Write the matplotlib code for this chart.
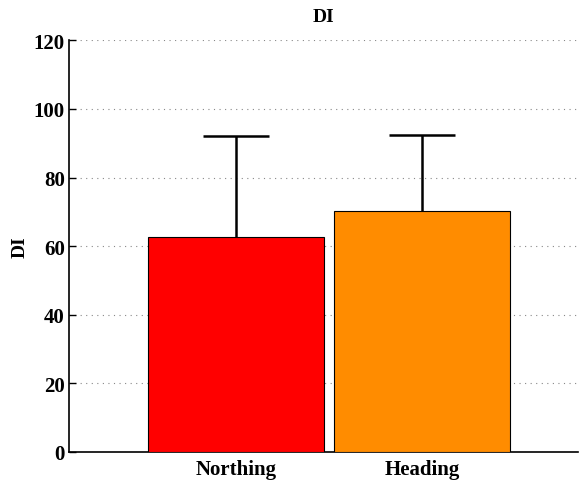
import matplotlib
matplotlib.use("Agg")
import matplotlib.pyplot as plt

categories = ["Northing", "Heading"]
values = [62.75, 70.3]
errors = [29.25, 22.1]
colors = ["#ff0000", "#ff8c00"]
yticks = [0, 20, 40, 60, 80, 100, 120]

plt.rcParams['font.family'] = ['Liberation Serif', 'DejaVu Serif']
plt.rcParams['font.weight'] = 'bold'

fig = plt.figure(figsize=(5.82, 4.81), dpi=100)
ax = fig.add_axes([69/582, 1-453/481, (578-69)/582, (453-41.3)/481])

x = [1, 2]
ax.bar(x, values, width=0.95, color=colors, edgecolor='black', linewidth=0.8, zorder=3)
eb = ax.errorbar(x, values, yerr=[[0, 0], errors], fmt='none', ecolor='black',
                 elinewidth=1.8, capsize=23.5, capthick=1.8, zorder=4)
for cl in eb[1]:
    yd = list(cl.get_ydata())
    if all(abs(a - b) < 1e-9 for a, b in zip(yd, values)):
        cl.set_visible(False)

ax.set_xlim(0.1, 2.84)
ax.set_ylim(0, 120)
ax.set_yticks(yticks)
ax.set_xticks(x)
ax.set_xticklabels(categories, fontsize=15, fontweight='bold')
ax.tick_params(axis='y', labelsize=15, direction='in', length=5, width=1, pad=3)
ax.tick_params(axis='x', direction='in', length=0, pad=5)
for lab in ax.get_yticklabels():
    lab.set_fontweight('bold')
ax.yaxis.grid(True, linestyle=(0, (1, 4)), color='#888888', linewidth=0.8, zorder=0)
ax.spines['top'].set_visible(False)
ax.spines['right'].set_visible(False)
ax.spines['left'].set_linewidth(1.2)
ax.spines['bottom'].set_linewidth(1.2)
ax.set_ylabel("DI", fontsize=14, fontweight='bold', labelpad=4)
ax.set_title("DI", fontsize=14, fontweight='bold', pad=14)

fig.savefig("out.png", dpi=100)
